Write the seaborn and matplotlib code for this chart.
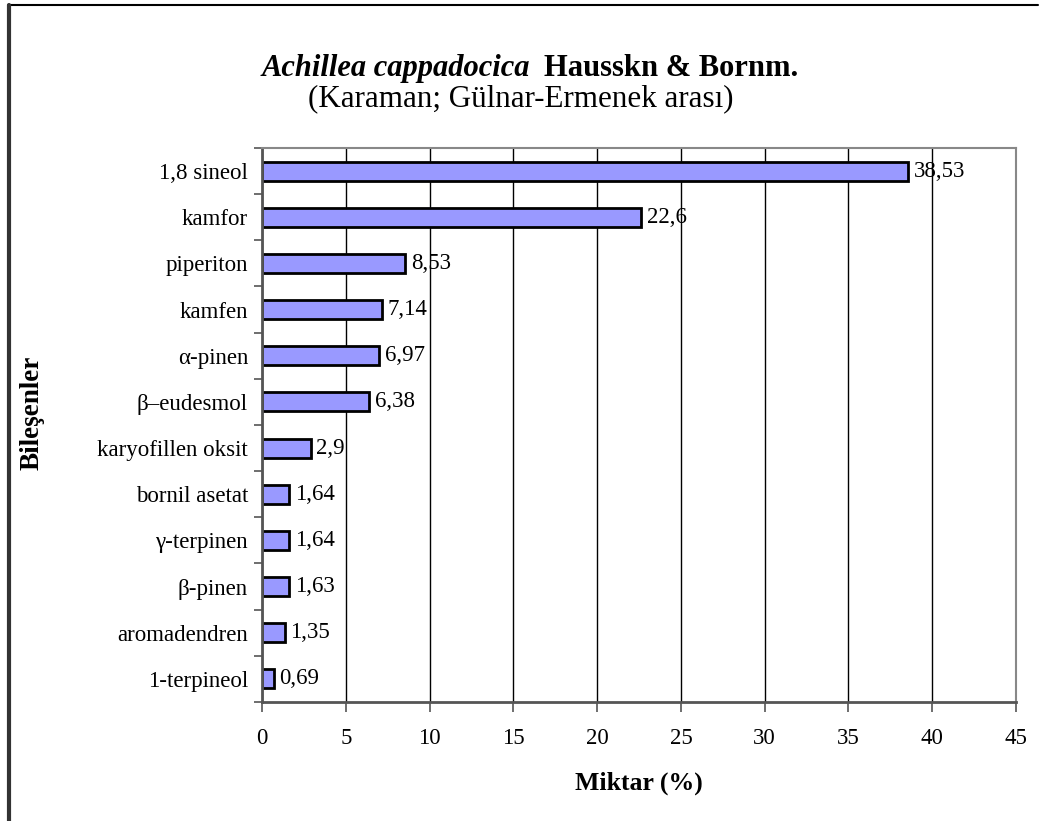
import matplotlib
matplotlib.use("Agg")
import matplotlib.pyplot as plt
import seaborn as sns
import pandas as pd
from matplotlib.lines import Line2D

# Bileşenler ve miktarlar (%)
bilesenler = ["1,8 sineol", "kamfor", "piperiton", "kamfen", "α-pinen", "β–eudesmol",
              "karyofillen oksit", "bornil asetat", "γ-terpinen", "β-pinen",
              "aromadendren", "1-terpineol"]
miktar = [38.53, 22.6, 8.53, 7.14, 6.97, 6.38, 2.9, 1.64, 1.64, 1.63, 1.35, 0.69]
etiketler = ["38,53", "22,6", "8,53", "7,14", "6,97", "6,38", "2,9", "1,64", "1,64",
             "1,63", "1,35", "0,69"]

df = pd.DataFrame({"Bileşenler": bilesenler, "Miktar": miktar})

sns.set_style("white")
plt.rcParams["font.family"] = ["Liberation Serif", "DejaVu Serif"]
plt.rcParams["text.color"] = "black"
plt.rcParams["axes.labelcolor"] = "black"
plt.rcParams["xtick.labelcolor"] = "black"
plt.rcParams["ytick.labelcolor"] = "black"

fig = plt.figure(figsize=(10.47, 8.21), dpi=100)
ax = fig.add_axes([262 / 1047, 1 - 702 / 821, (1016 - 262) / 1047, (702 - 148) / 821])

sns.barplot(data=df, x="Miktar", y="Bileşenler", orient="h", color="#9999FF",
            saturation=1, edgecolor="black", linewidth=2, width=0.41, ax=ax)

for i, (v, t) in enumerate(zip(miktar, etiketler)):
    ax.text(v + 0.35, i, t, va="center", ha="left", fontsize=16.5)

ax.set_xlim(0, 45)
ax.set_ylim(11.5, -0.5)
ax.set_xticks(range(0, 46, 5))
ax.set_xticklabels([str(x) for x in range(0, 46, 5)], fontsize=16.5)
ax.set_yticks([i + 0.5 for i in range(-1, 12)], minor=True)
ax.tick_params(axis="y", which="major", length=0, labelsize=16.5, pad=10)
ax.tick_params(axis="y", which="minor", length=6, width=1.2, color="#555555", left=True)
ax.tick_params(axis="x", length=7, width=1.2, color="#555555", bottom=True, pad=12)
ax.xaxis.grid(True, color="black", linewidth=1)
ax.set_axisbelow(True)
for s in ["top", "right"]:
    ax.spines[s].set_color("#888888")
    ax.spines[s].set_linewidth(1.5)
for s in ["left", "bottom"]:
    ax.spines[s].set_color("#555555")
    ax.spines[s].set_linewidth(2)

ax.set_xlabel("Miktar (%)", fontsize=18.5, fontweight="bold", labelpad=16)
ax.set_ylabel("")
fig.text(32 / 1047, 1 - 413 / 821, "Bileşenler", rotation=90, fontsize=19.5,
         fontweight="bold", ha="center", va="center")

fig.text(530 / 1047, 1 - 68 / 821, "Achillea cappadocica", fontsize=22,
         fontweight="bold", fontstyle="italic", ha="right", va="center")
fig.text(544 / 1047, 1 - 68 / 821, "Hausskn & Bornm.", fontsize=22,
         fontweight="bold", ha="left", va="center")
fig.text(521 / 1047, 1 - 99 / 821, "(Karaman; Gülnar-Ermenek arası)", fontsize=22.3,
         ha="center", va="center")

# çerçeve
fig.add_artist(Line2D([8 / 1047, 1038 / 1047], [1 - 5 / 821, 1 - 5 / 821],
                      transform=fig.transFigure, color="black", linewidth=1.5))
fig.add_artist(Line2D([9 / 1047, 9 / 1047], [1 - 5 / 821, 0],
                      transform=fig.transFigure, color="#333333", linewidth=3))

fig.savefig("out.png", dpi=100)
